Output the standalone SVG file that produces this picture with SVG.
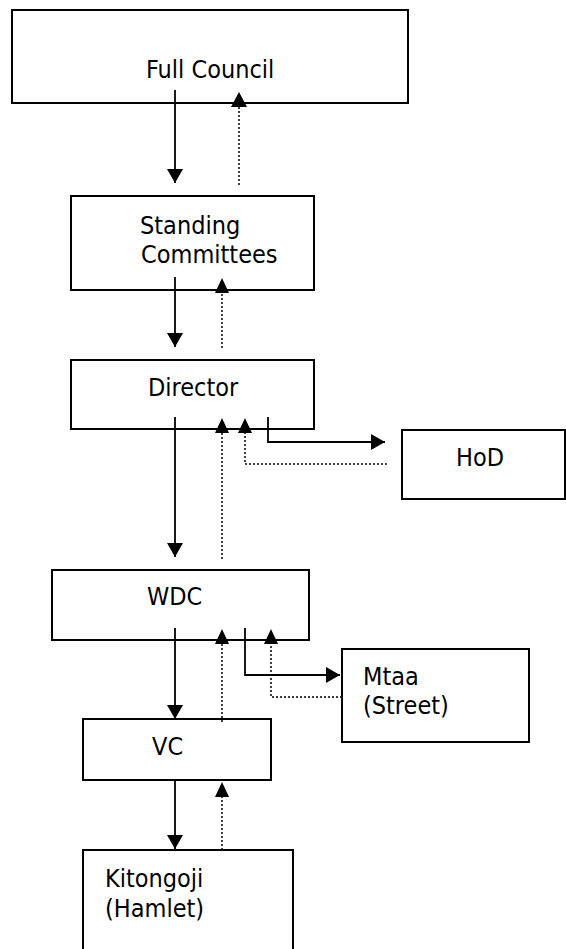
<svg xmlns="http://www.w3.org/2000/svg" width="566" height="949" viewBox="0 0 566 949">
<defs>
<marker id="ah" viewBox="0 0 14 16" refX="14" refY="8" markerWidth="14" markerHeight="16" markerUnits="userSpaceOnUse" orient="auto">
<path d="M0,0 L14,8 L0,16 Z" fill="#000"/>
</marker>
</defs>
<style>
.box{fill:#fff;stroke:#000;stroke-width:2}
.lbl{font-family:"DejaVu Sans Condensed","DejaVu Sans",sans-serif;font-stretch:condensed;font-size:25px;fill:#000}
.solid{fill:none;stroke:#000;stroke-width:1.8}
.dot{fill:none;stroke:#000;stroke-width:1.5;stroke-dasharray:2 2}
</style>
<rect width="566" height="949" fill="#fff"/>
<g id="full-council"><rect class="box" x="12" y="10" width="396" height="93"/><text class="lbl" x="146" y="78">Full Council</text></g>
<g id="standing-committees"><rect class="box" x="71" y="196" width="243" height="94"/><text class="lbl" x="140" y="234">Standing</text><text class="lbl" x="141" y="263">Committees</text></g>
<g id="director"><rect class="box" x="71" y="360" width="243" height="69"/><text class="lbl" x="148" y="396">Director</text></g>
<g id="hod"><rect class="box" x="402" y="430" width="163" height="69"/><text class="lbl" x="456" y="466">HoD</text></g>
<g id="wdc"><rect class="box" x="52" y="570" width="257" height="70"/><text class="lbl" x="147" y="605">WDC</text></g>
<g id="mtaa"><rect class="box" x="342" y="649" width="187" height="93"/><text class="lbl" x="363" y="685">Mtaa</text><text class="lbl" x="363" y="714">(Street)</text></g>
<g id="vc"><rect class="box" x="83" y="719" width="188" height="61"/><text class="lbl" x="152" y="755">VC</text></g>
<g id="kitongoji"><rect class="box" x="83" y="850" width="210" height="110"/><text class="lbl" x="105" y="887">Kitongoji</text><text class="lbl" x="105" y="917">(Hamlet)</text></g>
<g id="connectors">
<path class="solid" d="M175,90 V183" marker-end="url(#ah)"/>
<path class="dot" d="M239,185 V107"/><path d="M231,107 L239,92 L247,107 Z"/>
<path class="solid" d="M175,277 V347" marker-end="url(#ah)"/>
<path class="dot" d="M222,348 V293"/><path d="M215,293 L222,278 L229,293 Z"/>
<path class="solid" d="M175,417 V557" marker-end="url(#ah)"/>
<path class="dot" d="M222,559 V433"/><path d="M215,433 L222,418 L229,433 Z"/>
<path class="dot" d="M387,464 H245 V433"/><path d="M238,433 L245,418 L252,433 Z"/>
<path class="solid" d="M268,417 V442 H385" marker-end="url(#ah)"/>
<path class="solid" d="M175,628 V719" marker-end="url(#ah)"/>
<path class="dot" d="M222,722 V644"/><path d="M215,644 L222,629 L229,644 Z"/>
<path class="dot" d="M342,697 H271 V644"/><path d="M264,644 L271,629 L278,644 Z"/>
<path class="solid" d="M245,628 V675 H340" marker-end="url(#ah)"/>
<path class="solid" d="M175,780 V849" marker-end="url(#ah)"/>
<path class="dot" d="M222,850 V797"/><path d="M215,797 L222,782 L229,797 Z"/>
</g>
</svg>
